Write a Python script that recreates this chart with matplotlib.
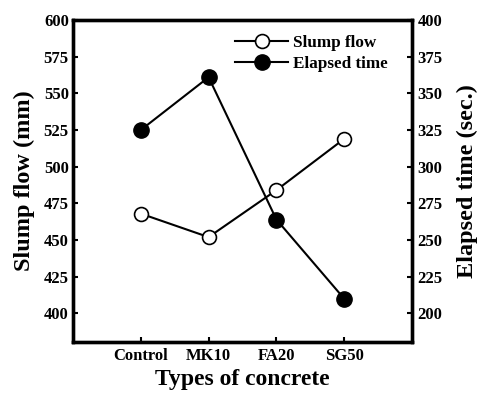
import matplotlib
matplotlib.use("Agg")
import matplotlib.pyplot as plt

categories = ["Control", "MK10", "FA20", "SG50"]
slump_flow = [468, 452, 484, 519]
elapsed_time = [325, 361, 264, 210]
left_ticks = [400, 425, 450, 475, 500, 525, 550, 575, 600]
right_ticks = [200, 225, 250, 275, 300, 325, 350, 375, 400]

plt.rcParams['font.family'] = ['Liberation Serif', 'DejaVu Serif']
plt.rcParams['font.weight'] = 'bold'

fig = plt.figure(figsize=(4.81, 3.95), dpi=100)
ax = fig.add_axes([73/481, (395-342)/395, (412-73)/481, (342-20)/395])
ax2 = ax.twinx()

x = list(range(len(categories)))
l1, = ax.plot(x, slump_flow, '-o', color='black', mfc='white', mec='black',
              ms=10, mew=1.2, lw=1.5, label='Slump flow')
l2, = ax2.plot(x, elapsed_time, '-o', color='black', mfc='black', mec='black',
               ms=11, lw=1.5, label='Elapsed time')

ax.set_xlim(-1, 4)
ax.set_ylim(380.5, 600)
ax2.set_ylim(180.5, 400)
ax.set_yticks(left_ticks)
ax2.set_yticks(right_ticks)
ax.set_xticks(x)
ax.set_xticklabels(categories)

for a in (ax, ax2):
    for s in a.spines.values():
        s.set_linewidth(2.4)
    a.tick_params(direction='in', length=3.5, width=1.5, labelsize=12, pad=3)
ax.tick_params(axis='x', pad=4)
ax2.tick_params(axis='y', pad=4)

ax.set_xlabel('Types of concrete', fontsize=17, fontweight='bold', labelpad=4)
ax.set_ylabel('Slump flow (mm)', fontsize=17.5, fontweight='bold', labelpad=6)
ax2.set_ylabel('Elapsed time (sec.)', fontsize=17.5, fontweight='bold', labelpad=10)

leg = ax.legend(handles=[l1, l2], loc='upper right', bbox_to_anchor=(0.96, 0.985),
                frameon=False, fontsize=12.3, handlelength=3.1, handletextpad=0.3,
                labelspacing=0.3, borderaxespad=0.2)

fig.savefig('out.png', dpi=100)
